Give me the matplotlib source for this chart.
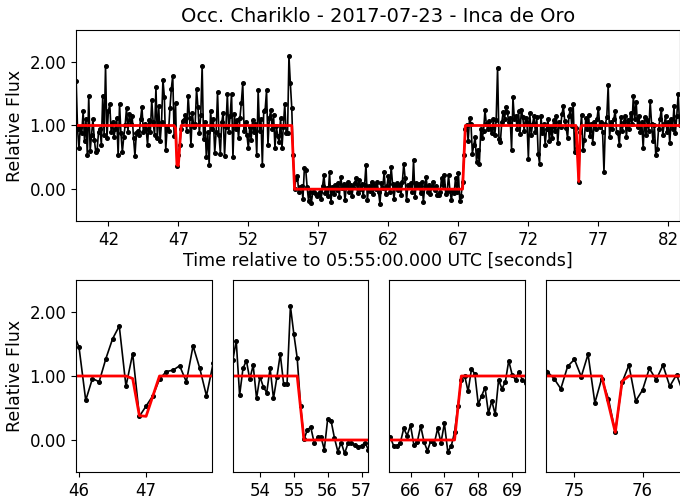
import numpy as np
import matplotlib
matplotlib.use("Agg")
import matplotlib.pyplot as plt
from matplotlib.ticker import MultipleLocator, FormatStrFormatter

# Light curve (0.1 s cadence, starting at 39.7 s)
t_start = 39.7
cadence = 0.1
flux = [
    1.70, 0.95, 0.64,                                              # 39.7
    0.98, 0.88, 1.22, 0.75, 1.10, 0.53, 1.46, 0.60, 0.85, 1.10,  # 40
    0.78, 0.58, 0.62, 0.90, 0.95, 0.70, 1.47, 0.85, 1.94, 0.80,  # 41
    1.22, 1.34, 0.90, 1.05, 0.82, 0.95, 1.12, 0.53, 1.34, 0.88,  # 42
    0.58, 0.82, 1.00, 1.28, 0.90, 1.18, 1.02, 1.15, 0.80, 0.52,  # 43
    0.88, 0.92, 0.85, 1.10, 1.29, 0.90, 1.02, 0.95, 0.69, 1.08,  # 44
    0.90, 1.40, 1.05, 0.85, 1.60, 0.80, 1.30, 0.75, 1.05, 1.72,  # 45
    1.45, 0.62, 0.96, 0.91, 1.27, 1.58, 1.78, 0.84, 1.35, 0.37,  # 46
    0.53, 0.69, 0.95, 1.07, 1.09, 1.16, 0.91, 1.47, 1.12, 0.69,  # 47
    1.20, 0.97, 1.02, 1.57, 1.29, 0.88, 1.16, 1.94, 0.79, 1.05,  # 48
    0.50, 0.90, 0.38, 1.23, 0.95, 1.10, 0.57, 0.90, 1.52, 0.85,  # 49
    0.56, 1.05, 1.20, 0.52, 0.98, 1.49, 0.90, 1.15, 1.50, 0.50,  # 50
    1.18, 0.95, 1.08, 0.80, 1.12, 1.36, 1.66, 0.92, 1.05, 0.85,  # 51
    0.64, 0.98, 0.78, 1.08, 0.90, 1.02, 0.54, 1.55, 0.92, 1.10,  # 52
    0.38, 1.23, 1.25, 1.55, 0.70, 1.12, 1.24, 0.95, 1.17, 0.65,  # 53
    0.99, 0.83, 0.74, 1.12, 0.65, 0.98, 1.34, 0.875, 0.875, 2.09,  # 54
    1.66, 1.28, 0.53, 0.01, 0.16, 0.20, -0.04, 0.04, 0.05, -0.15,  # 55
    0.33, 0.30, 0.03, -0.18, -0.04, -0.21, -0.05, -0.04, -0.08, -0.11,  # 56
    -0.09, -0.04, -0.15, 0.05, 0.22, -0.06, 0.02, -0.10, 0.27, -0.20,  # 57
    0.04, -0.08, 0.06, -0.02, 0.10, -0.12, 0.19, 0.02, 0.08, -0.17,  # 58
    0.03, 0.12, -0.05, 0.07, -0.10, 0.04, 0.10, 0.17, -0.06, 0.15,  # 59
    0.00, 0.08, -0.11, 0.06, 0.38, -0.17, 0.05, -0.03, 0.12, -0.08,  # 60
    0.06, 0.01, 0.11, -0.05, -0.23, 0.09, 0.02, 0.27, -0.07, 0.05,  # 61
    0.21, -0.04, 0.35, 0.08, -0.15, 0.04, 0.10, -0.02, 0.06, -0.09,  # 62
    0.12, 0.40, 0.17, -0.17, 0.07, 0.03, 0.09, -0.05, 0.46, -0.12,  # 63
    0.10, 0.03, 0.08, -0.06, 0.11, -0.20, 0.05, 0.19, -0.04, 0.07,  # 64
    -0.08, 0.04, 0.12, -0.02, 0.05, -0.09, -0.09, -0.04, 0.18, 0.07,  # 65
    0.23, -0.08, -0.03, 0.22, -0.03, -0.17, -0.01, -0.06, 0.18, -0.04,  # 66
    0.26, -0.18, -0.10, 0.12, 0.53, 0.94, 1.00, 0.76, 1.11, 1.03,  # 67
    0.56, 0.69, 0.82, 0.42, 0.61, 0.40, 0.94, 0.80, 0.91, 1.24,  # 68
    1.02, 0.94, 1.07, 0.94, 0.89, 1.10, 0.85, 1.08, 1.91, 0.79,  # 69
    0.74, 1.05, 1.21, 1.10, 1.29, 1.21, 1.05, 1.12, 0.62, 1.44,  # 70
    1.10, 1.15, 0.95, 1.22, 0.87, 1.25, 1.13, 0.92, 1.12, 1.05,  # 71
    0.48, 1.20, 0.85, 1.02, 1.15, 0.90, 1.13, 0.56, 0.40, 1.15,  # 72
    0.88, 1.02, 0.70, 0.95, 1.10, 0.75, 0.98, 0.80, 1.08, 0.92,  # 73
    1.15, 0.72, 1.05, 0.98, 1.18, 1.30, 1.07, 0.96, 0.80, 1.15,  # 74
    1.26, 0.99, 1.34, 0.58, 0.96, 0.64, 0.12, 0.90, 1.17, 0.61,  # 75
    0.78, 1.12, 0.94, 1.17, 0.84, 1.02, 0.73, 1.05, 0.95, 1.10,  # 76
    1.28, 0.98, 1.05, 0.90, 0.27, 1.02, 1.13, 1.63, 0.82, 1.05,  # 77
    0.95, 1.10, 1.23, 0.90, 0.88, 0.69, 1.13, 0.92, 1.05, 1.15,  # 78
    0.82, 1.08, 0.95, 1.20, 1.02, 1.47, 1.10, 1.37, 0.98, 1.15,  # 79
    0.90, 1.05, 0.64, 1.13, 0.85, 1.08, 0.92, 1.38, 1.02, 0.75,  # 80
    1.00, 0.53, 0.63, 0.95, 1.10, 1.26, 0.85, 1.02, 1.15, 0.90,  # 81
    1.05, 0.72, 1.10, 0.95, 1.30, 0.88, 1.15, 1.50, 1.00,        # 82
]
time = np.round(t_start + cadence * np.arange(len(flux)), 1)

# Fitted model (breakpoints)
model_time = [39.7, 46.7, 46.8, 46.9, 47.0, 47.2, 55.1, 55.3, 67.3, 67.5,
              75.4, 75.6, 75.7, 75.8, 82.8]
model_flux = [1.0, 1.0, 0.96, 0.38, 0.37, 1.0, 1.0, 0.0, 0.0, 1.0,
              1.0, 0.12, 0.92, 1.0, 1.0]

# Zoom windows: (center, half width)
zoom_center = [46.965, 55.19, 67.365, 75.57]
zoom_half = [1.01, 2.0, 2.0, 0.995]

W, H = 680, 503
fig = plt.figure(figsize=(W / 100, H / 100), dpi=100)


def draw(ax):
    ax.plot(time, flux, 'k-', marker='o', ms=2.6, lw=1.2)
    ax.plot(model_time, model_flux, 'r-', lw=2.0)
    ax.set_ylim(-0.5, 2.5)
    ax.yaxis.set_major_locator(MultipleLocator(1))
    ax.yaxis.set_major_formatter(FormatStrFormatter('%.2f'))
    ax.tick_params(labelsize=12)


# top panel
ax = fig.add_axes([76 / W, 1 - 221 / H, 604 / W, 191 / H])
draw(ax)
ax.set_xlim(39.69, 82.83)
ax.set_xticks(np.arange(42, 83, 5))
ax.set_title("Occ. Chariklo - 2017-07-23 - Inca de Oro", fontsize=14)
ax.set_xlabel("Time relative to 05:55:00.000 UTC [seconds]", fontsize=12.5, labelpad=2)
ax.set_ylabel("Relative Flux", fontsize=12.5)

# bottom zoom panels
for i, (c, hw) in enumerate(zip(zoom_center, zoom_half)):
    axz = fig.add_axes([(76 + 156.5 * i) / W, 1 - 472 / H, 135.5 / W, 192 / H])
    draw(axz)
    axz.set_xlim(c - hw, c + hw)
    axz.xaxis.set_major_locator(MultipleLocator(1))
    if i == 0:
        axz.set_ylabel("Relative Flux", fontsize=12.5)
    else:
        axz.set_yticks([])

fig.savefig("out.png", dpi=100)
